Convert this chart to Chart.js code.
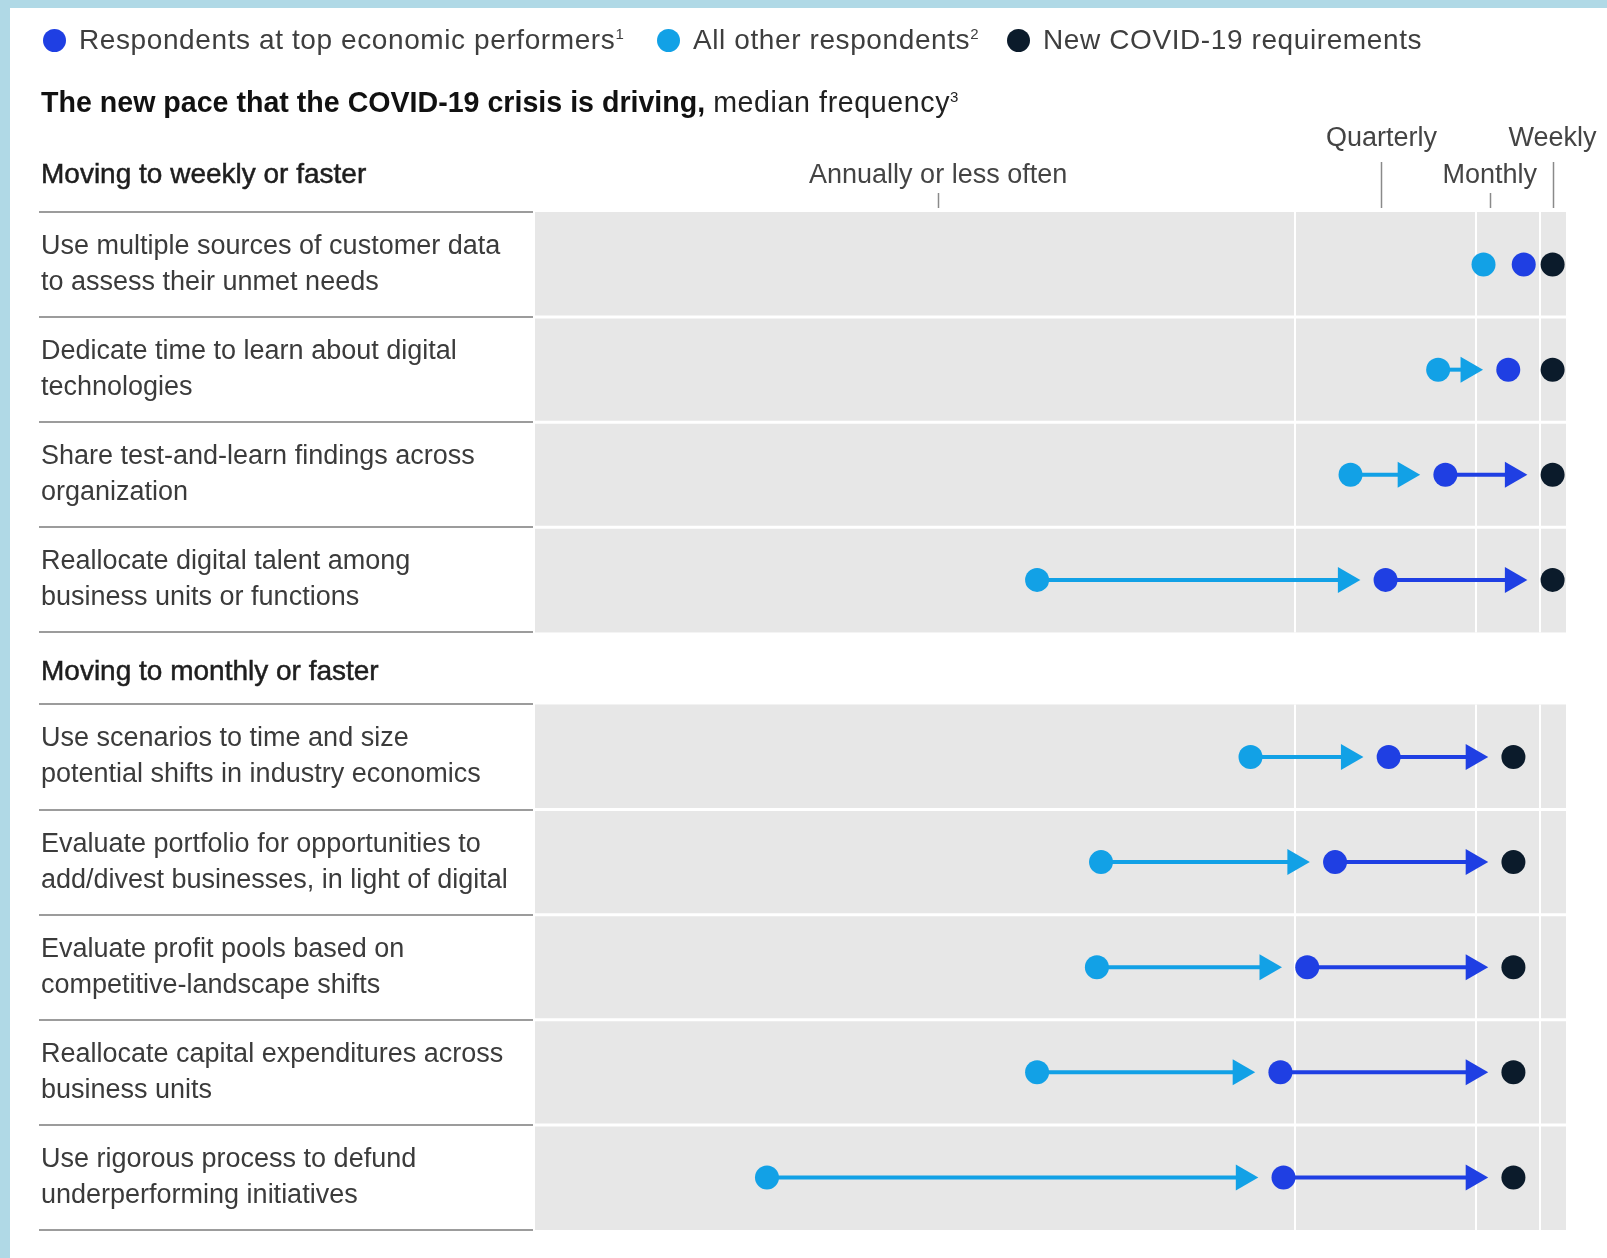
<!DOCTYPE html>
<html>
<head>
<meta charset="utf-8">
<title>The new pace that the COVID-19 crisis is driving</title>
<script src="https://cdn.jsdelivr.net/npm/chart.js@4.4.1/dist/chart.umd.min.js"></script>
<style>
  html, body { margin: 0; padding: 0; }
  body {
    width: 1607px; height: 1258px; position: relative; overflow: hidden;
    background: #b0d9e6;
    font-family: 'Liberation Sans', Arial, sans-serif;
  }
  .sheet { position: absolute; left: 10px; top: 8px; right: 0; bottom: 0; background: #fff; }
  .chart-box { position: absolute; left: 0; top: 0; width: 1607px; height: 1258px; }
  .txt { position: absolute; white-space: nowrap; font-size: 28px; line-height: 28px; height: 28px; }
  .legend { color: #3e3e3e; letter-spacing: 0.6px; }
  .dot { position: absolute; width: 23px; height: 23px; border-radius: 50%; }
  .title { color: #111; font-size: 28.6px; }
  .title span { letter-spacing: 0.6px; color: #222; }
  sup { font-size: 15px; line-height: 0; vertical-align: 10px; }
</style>
</head>
<body>
<div class="sheet"></div>
<div class="chart-box"><canvas id="paceChart"></canvas></div>
<div class="txt title" style="left:41px;top:88px"><b>The new pace that the COVID-19 crisis is driving,</b> <span>median frequency<sup>3</sup></span></div>
<div id="legend"></div>

<script>
// rows, grouped in two sections
const sectionTitles = ['Moving to weekly or faster', 'Moving to monthly or faster'];
const categories = [
  ['Use multiple sources of customer data', 'to assess their unmet needs'],
  ['Dedicate time to learn about digital', 'technologies'],
  ['Share test-and-learn findings across', 'organization'],
  ['Reallocate digital talent among', 'business units or functions'],
  ['Use scenarios to time and size', 'potential shifts in industry economics'],
  ['Evaluate portfolio for opportunities to', 'add/divest businesses, in light of digital'],
  ['Evaluate profit pools based on', 'competitive-landscape shifts'],
  ['Reallocate capital expenditures across', 'business units'],
  ['Use rigorous process to defund', 'underperforming initiatives']
];
const categorySection = [0, 0, 0, 0, 1, 1, 1, 1, 1];

// median frequency, on a 0-100 position scale (0 = least often)
const allOtherRespondents = [92.0, 87.6, 79.1, 48.7, 69.4, 54.9, 54.5, 48.7, 22.5];
const topPerformers = [95.9, 94.4, 88.3, 82.5, 82.8, 77.6, 74.9, 72.3, 72.6];
const covidRequirements = [98.7, 98.7, 98.7, 98.7, 94.9, 94.9, 94.9, 94.9, 94.9];

const frequencyTicks = [39.1, 82.1, 92.6, 98.7];
const frequencyLabels = ['Annually or less often', 'Quarterly', 'Monthly', 'Weekly'];
const gridValues = [73.7, 91.3, 97.5];

const seriesNames = ['Respondents at top economic performers', 'All other respondents', 'New COVID-19 requirements'];
const seriesNotes = ['1', '2', ''];

const COLORS = ['#1f3fe3', '#12a1e6', '#0b1b2b'];
const PANEL = '#e7e7e7';
const SECTION_GAP = 0.685;   // gap between sections, in rows
const ARROW_MIN = 5;         // no arrow for smaller moves
const ARROW_BACK = 3.9;      // arrow head stops short of the next dot

Chart.defaults.font.family = "'Liberation Sans', Arial, sans-serif";

// legend
const legendX = [43, 657, 1007];
const legend = document.getElementById('legend');
seriesNames.forEach((name, i) => {
  const dot = document.createElement('span');
  dot.className = 'dot';
  dot.style.left = legendX[i] + 'px';
  dot.style.top = '29px';
  dot.style.background = COLORS[i];
  legend.appendChild(dot);
  const txt = document.createElement('span');
  txt.className = 'txt legend';
  txt.style.left = (legendX[i] + 36) + 'px';
  txt.style.top = '26px';
  txt.innerHTML = name + (seriesNotes[i] ? '<sup>' + seriesNotes[i] + '</sup>' : '');
  legend.appendChild(txt);
});

const rowY = i => i + 0.5 + categorySection[i] * SECTION_GAP;
const yMax = categories.length + (sectionTitles.length - 1) * SECTION_GAP;

const dotSet = (label, values, color) => ({
  type: 'scatter',
  label: label,
  data: values.map((v, i) => ({ x: v, y: rowY(i) })),
  backgroundColor: color,
  pointBackgroundColor: color,
  pointBorderWidth: 0,
  pointRadius: 12,
  order: 0
});

const arrows = [];
const addArrows = (from, to, color) => {
  from.forEach((v, i) => {
    if (to[i] - v < ARROW_MIN) return;
    arrows.push({
      type: 'line',
      data: [{ x: v, y: rowY(i) }, { x: to[i] - ARROW_BACK, y: rowY(i) }],
      borderColor: color,
      borderWidth: 4,
      backgroundColor: color,
      pointBackgroundColor: color,
      pointStyle: 'triangle',
      pointRotation: 90,
      pointRadius: [0, 15],
      pointBorderWidth: 0,
      fill: false,
      tension: 0,
      order: 1
    });
  });
};
addArrows(allOtherRespondents, topPerformers, COLORS[1]);
addArrows(topPerformers, covidRequirements, COLORS[0]);

const line = (ctx, x1, y1, x2, y2) => {
  ctx.beginPath();
  ctx.moveTo(x1, y1);
  ctx.lineTo(x2, y2);
  ctx.stroke();
};

// keep the plot area where the layout padding puts it
const noScalePadding = s => {
  s.paddingLeft = s.paddingRight = s.paddingTop = s.paddingBottom = 0;
};

const panelPlugin = {
  id: 'panel',
  beforeDraw(chart) {
    const { ctx, chartArea: a, scales: { x, y } } = chart;
    ctx.save();
    let prevBottom = null;
    sectionTitles.forEach((title, s) => {
      const rows = categories.map((_, i) => i).filter(i => categorySection[i] === s);
      const top = y.getPixelForValue(rowY(rows[0]) - 0.5);
      const bottom = y.getPixelForValue(rowY(rows[rows.length - 1]) + 0.5);

      ctx.fillStyle = PANEL;
      ctx.fillRect(a.left, top, a.right - a.left, bottom - top);

      ctx.strokeStyle = '#fff';
      ctx.lineWidth = 2;
      gridValues.forEach(v => {
        const px = Math.round(x.getPixelForValue(v));
        line(ctx, px, top, px, bottom);
      });

      ctx.lineWidth = 3;
      rows.slice(1).forEach(i => {
        const py = y.getPixelForValue(rowY(i) - 0.5);
        line(ctx, a.left, py, a.right, py);
      });

      // rules in the label column
      ctx.strokeStyle = '#9c9c9c';
      ctx.lineWidth = 2;
      rows.forEach(i => {
        const py = Math.round(y.getPixelForValue(rowY(i) - 0.5));
        line(ctx, y.left - 2, py, a.left - 2, py);
      });
      line(ctx, y.left - 2, Math.round(bottom), a.left - 2, Math.round(bottom));

      const ty = prevBottom === null ? top - 37 : (prevBottom + top) / 2 + 4;
      ctx.fillStyle = '#1e1e1e';
      ctx.strokeStyle = '#1e1e1e';
      ctx.lineWidth = 0.5;
      ctx.font = "28px 'Liberation Sans', Arial, sans-serif";
      ctx.textBaseline = 'middle';
      ctx.textAlign = 'left';
      ctx.fillText(title, y.left, ty);
      ctx.strokeText(title, y.left, ty);
      prevBottom = bottom;
    });
    ctx.restore();
  },
  afterDraw(chart) {
    const { ctx, chartArea: a, scales: { x } } = chart;
    ctx.save();
    ctx.strokeStyle = '#8a8a8a';
    ctx.lineWidth = 1.5;
    frequencyTicks.forEach((v, i) => {
      const px = Math.round(x.getPixelForValue(v)) + 0.5;
      const len = i % 2 ? 46 : 15;
      line(ctx, px, a.top - 4, px, a.top - 4 - len);
    });
    ctx.restore();
  }
};

new Chart(document.getElementById('paceChart'), {
  type: 'scatter',
  data: {
    datasets: [
      dotSet(seriesNames[0], topPerformers, COLORS[0]),
      dotSet(seriesNames[1], allOtherRespondents, COLORS[1]),
      dotSet(seriesNames[2], covidRequirements, COLORS[2])
    ].concat(arrows)
  },
  options: {
    responsive: true,
    maintainAspectRatio: false,
    animation: false,
    events: [],
    layout: { padding: { left: 41, right: 41, top: 112, bottom: 28 } },
    plugins: {
      legend: { display: false },
      tooltip: { enabled: false }
    },
    scales: {
      x: {
        type: 'linear',
        position: 'top',
        min: 0,
        max: 100,
        afterBuildTicks: s => { s.ticks = frequencyTicks.map(value => ({ value })); },
        afterFit: s => { s.height = 100; noScalePadding(s); },
        ticks: {
          autoSkip: false,
          maxRotation: 0,
          minRotation: 0,
          padding: 18,
          color: '#444',
          font: { size: 27, lineHeight: 1.37 },
          callback: (v, i) => (i % 2 ? [frequencyLabels[i], ''] : frequencyLabels[i])
        },
        grid: { display: false, drawTicks: false },
        border: { display: false }
      },
      y: {
        type: 'linear',
        min: 0,
        max: yMax,
        reverse: true,
        afterBuildTicks: s => { s.ticks = categories.map((_, i) => ({ value: rowY(i) })); },
        afterFit: s => { s.width = 494; noScalePadding(s); },
        ticks: {
          autoSkip: false,
          crossAlign: 'far',
          padding: 0,
          color: '#3b3b3b',
          font: { size: 27, lineHeight: 1.333 },
          callback: (v, i) => categories[i]
        },
        grid: { display: false, drawTicks: false },
        border: { display: false }
      }
    }
  },
  plugins: [panelPlugin]
});
</script>
</body>
</html>
